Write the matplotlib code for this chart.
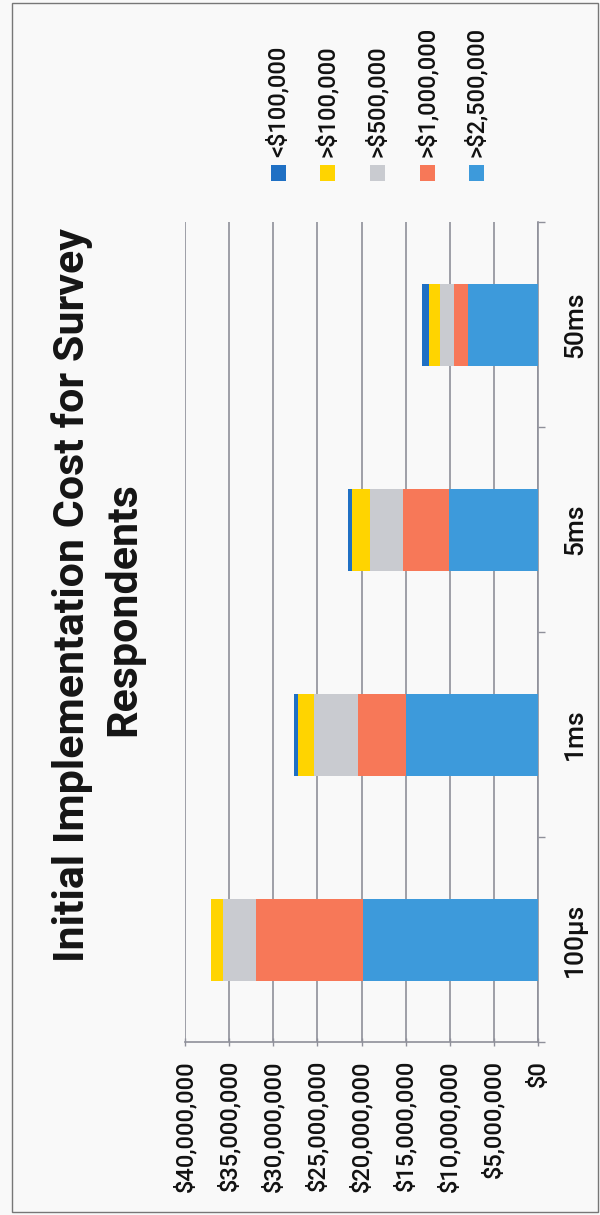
import matplotlib
matplotlib.use('Agg')
import matplotlib.pyplot as plt
from matplotlib.patches import Rectangle
from matplotlib.ticker import FuncFormatter, FixedLocator

# le graphique d'origine est scanne tourne de 90 degres (lecture de bas en haut)
# donc : axe des valeurs en bas, inverse, categories a droite, titre a gauche

categories = ['100µs', '1ms', '5ms', '50ms']
series_noms = ['<$100,000', '>$100,000', '>$500,000', '>$1,000,000', '>$2,500,000']

# valeurs, en dollars
moins_100k = [0, 400000, 450000, 700000]
plus_100k = [1400000, 1800000, 2000000, 1300000]
plus_500k = [3700000, 5000000, 3700000, 1600000]
plus_1m = [12200000, 5400000, 5300000, 1600000]
plus_2_5m = [19800000, 15000000, 10050000, 7900000]

couleurs = {
    '<$100,000': '#1F70C4',
    '>$100,000': '#FFD400',
    '>$500,000': '#C9CBD0',
    '>$1,000,000': '#F77858',
    '>$2,500,000': '#3D9ADB',
}

plt.rcParams['font.family'] = ['Roboto', 'DejaVu Sans']

fond = '#F9F9F9'
gris = '#8F909A'
encre = '#111111'

fig = plt.figure(figsize=(6, 12.15), dpi=100, facecolor=fond)
ax = fig.add_axes([185 / 600, 1 - 1042 / 1215, (538 - 185) / 600, (1042 - 222) / 1215])
ax.set_facecolor(fond)

# empilement depuis l'axe : >$2.5M d'abord, puis vers l'exterieur
empilement = [
    ('>$2,500,000', plus_2_5m),
    ('>$1,000,000', plus_1m),
    ('>$500,000', plus_500k),
    ('>$100,000', plus_100k),
    ('<$100,000', moins_100k),
]
pos = list(range(len(categories)))
base = [0] * len(categories)
for nom, vals in empilement:
    ax.barh(pos, vals, left=base, height=0.4, color=couleurs[nom], zorder=3)
    base = [b + v for b, v in zip(base, vals)]

ax.set_xlim(40000000, 0)
ax.set_ylim(-0.5, 3.5)

# axe des valeurs (en bas)
ax.xaxis.set_major_locator(FixedLocator(range(0, 40000001, 5000000)))
ax.xaxis.set_major_formatter(FuncFormatter(lambda v, p: '${:,.0f}'.format(v)))
ax.tick_params(axis='x', direction='inout', length=6, width=1, color=gris,
               pad=10, labelsize=17, labelrotation=90, labelcolor=encre)
ax.grid(axis='x', color=gris, linewidth=1.2, zorder=0)
for lab in ax.get_xticklabels():
    lab.set_fontweight('medium')

# axe des categories (a droite)
ax.yaxis.tick_right()
ax.set_yticks(pos)
ax.set_yticklabels(categories)
ax.set_yticks([-0.5, 0.5, 1.5, 2.5, 3.5], minor=True)
ax.tick_params(axis='y', which='major', length=0, pad=18, labelsize=19,
               labelcolor=encre)
ax.tick_params(axis='y', which='minor', direction='out', length=5, width=1, color=gris)
for lab in ax.get_yticklabels():
    lab.set_rotation(90)
    lab.set_va('center')
    lab.set_ha('left')
    lab.set_fontweight('medium')

for cote in ['top', 'left']:
    ax.spines[cote].set_visible(False)
for cote in ['bottom', 'right']:
    ax.spines[cote].set_color(gris)
    ax.spines[cote].set_linewidth(1.2)

# titre sur deux lignes, tourne
fig.text(72 / 600, 1 - 595 / 1215, 'Initial Implementation Cost for Survey',
         rotation=90, ha='center', va='center', fontsize=31, fontweight='bold',
         color='#151515')
fig.text(124 / 600, 1 - 609 / 1215, 'Respondents',
         rotation=90, ha='center', va='center', fontsize=31, fontweight='bold',
         color='#151515')

# legende faite a la main (texte tourne)
leg_x = [278, 327, 377, 427, 476]
taille = 15
for nom, x in zip(series_noms, leg_x):
    fig.patches.append(Rectangle(((x - taille / 2) / 600, 1 - (173 + taille / 2) / 1215),
                                 taille / 600, taille / 1215, transform=fig.transFigure,
                                 facecolor=couleurs[nom], edgecolor='none'))
    fig.text(x / 600, 1 - 157 / 1215, nom, rotation=90, ha='center', va='bottom',
             fontsize=17, fontweight='medium', color=encre)

# cadre du scan
fig.patches.append(Rectangle((12 / 600, 3 / 1215), 586 / 600, 1209 / 1215,
                             transform=fig.transFigure, facecolor='none',
                             edgecolor='#777777', linewidth=1))

fig.savefig('out.png', dpi=100, facecolor=fond)
